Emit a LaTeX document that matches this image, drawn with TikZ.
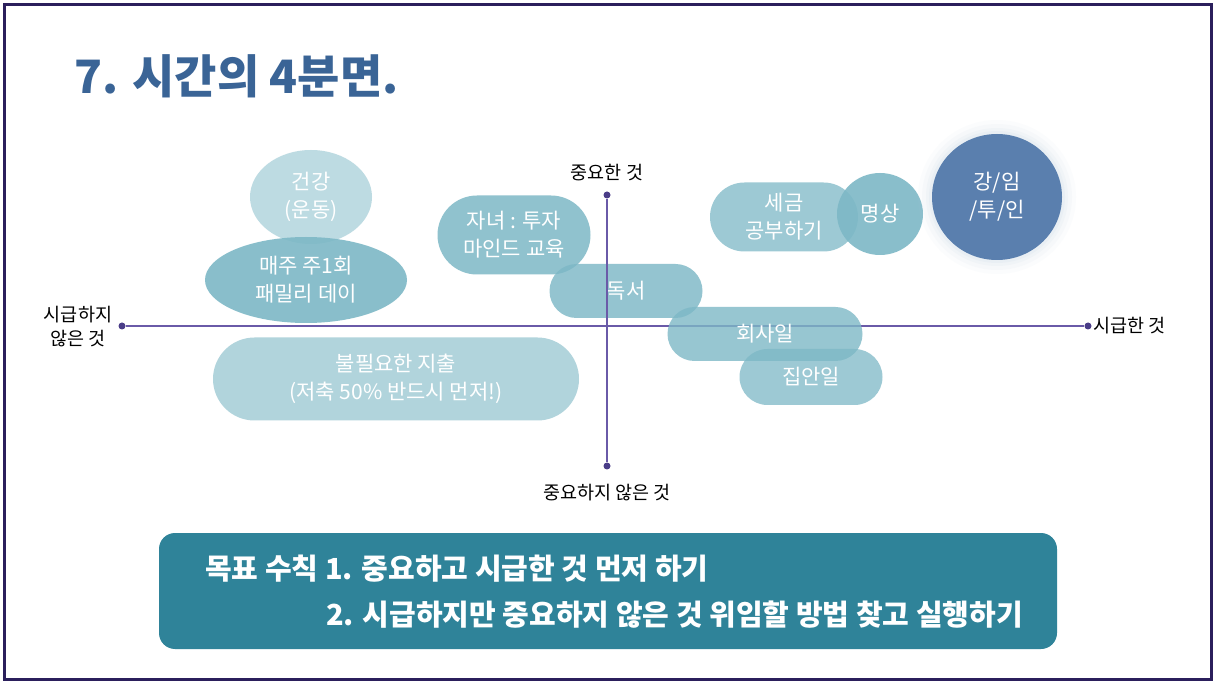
\documentclass[tikz,border=0pt]{standalone}
\usepackage{fontspec}
\setmainfont{Noto Sans CJK KR}
\usetikzlibrary{shapes.geometric,shapes.misc}
\definecolor{frameC}{HTML}{2B1F5C}
\definecolor{titleC}{HTML}{3A6496}
\definecolor{axisC}{HTML}{6A5AA8}
\definecolor{dotC}{HTML}{4A3D88}
\definecolor{boxC}{HTML}{2F8399}
\definecolor{pillC}{HTML}{7DB8C6}
\definecolor{deepC}{HTML}{5A7FAE}
\tikzset{
  pill/.style={rounded rectangle, fill=pillC, fill opacity=#1, text opacity=1, text=white, font=\fontsize{21}{28}\selectfont, align=center, inner sep=0pt},
  pill/.default=0.8,
  oval/.style={ellipse, fill=pillC, fill opacity=#1, text opacity=1, text=white, font=\fontsize{21}{28}\selectfont, align=center, inner sep=0pt},
  oval/.default=0.8,
  axislabel/.style={font=\fontsize{18.5}{22}\selectfont, text=black, align=center, inner sep=0pt},
  axisline/.style={axisC, line width=1.2pt},
  axisdot/.style={circle, fill=dotC, minimum size=7pt, inner sep=0pt},
  rule/.style={text=white, font=\bfseries\fontsize{29}{33}\selectfont, anchor=west, inner sep=0pt}
}
\begin{document}
\begin{tikzpicture}[x=1pt,y=-1pt]
\useasboundingbox (0,0) rectangle (1216,684);
\fill[white] (0,0) rectangle (1216,684);
\draw[frameC, line width=3pt] (4,5) rectangle (1211,679);
% title
\node[anchor=base west, text=titleC, font=\bfseries\fontsize{46}{50}\selectfont, inner sep=0pt] (title) at (74,94) {7. 시간의 4분면.};
% ellipses / pills
\node[oval=0.5, minimum width=122pt, minimum height=94pt] (health) at (311,197) {건강\\(운동)};
\node[oval=0.9, minimum width=202pt, minimum height=86pt] (family) at (306,280) {매주 주1회\\패밀리 데이};
\node[pill=0.85, minimum width=153pt, minimum height=79pt] (kids) at (514,235) {자녀 : 투자\\마인드 교육};
\node[pill=0.82, minimum width=153pt, minimum height=54pt] (read) at (626,291) {독서};
\node[pill=0.75, minimum width=148pt, minimum height=69pt] (tax) at (784,217) {세금\\공부하기};
\node[oval=0.9, minimum width=86pt, minimum height=82pt] (med) at (880,214) {명상};
\node[pill=0.6, minimum width=366pt, minimum height=83pt] (waste) at (396,379) {불필요한 지출\\(저축 50\% 반드시 먼저!)};
% axes
\node[axisdot] (L) at (122,326) {};
\node[axisdot] (R) at (1088,326) {};
\node[axisdot] (T) at (607,195) {};
\node[axisdot] (B) at (607,466) {};
\draw[axisline] (L) -- (R);
\draw[axisline] (T) -- (B);
\node[axislabel] (lT) at (607,173) {중요한 것};
\node[axislabel] (lB) at (607,493) {중요하지 않은 것};
\node[axislabel, font=\fontsize{18.5}{24}\selectfont] (lL) at (78,327) {시급하지\\않은 것};
\node[axislabel, anchor=west] (lR) at (1093,326) {시급한 것};
% right side pills over axis
\node[pill=0.8, minimum width=195pt, minimum height=54pt] (work) at (765,334) {회사일};
\node[pill=0.75, minimum width=143pt, minimum height=56pt] (home) at (811,377) {집안일};
% glow + deep circle
\foreach \g/\o in {14/0.05,10/0.07,6/0.09,3/0.12}{
  \fill[deepC!40, opacity=\o] (997,197) ellipse ({65+\g} and {63+\g});
}
\node[ellipse, fill=deepC, text=white, font=\fontsize{21}{28}\selectfont, align=center, inner sep=0pt, minimum width=130pt, minimum height=126pt] (inv) at (997,197) {강/임\\/투/인};
% bottom box
\node[fill=boxC, rounded corners=16pt, minimum width=898pt, minimum height=116pt, inner sep=0pt] (box) at (608,591) {};
\node[rule] (r1) at (205,569) {목표 수칙 1. 중요하고 시급한 것 먼저 하기};
\node[rule] (r2) at (326,615) {2. 시급하지만 중요하지 않은 것 위임할 방법 찾고 실행하기};
\end{tikzpicture}
\end{document}
